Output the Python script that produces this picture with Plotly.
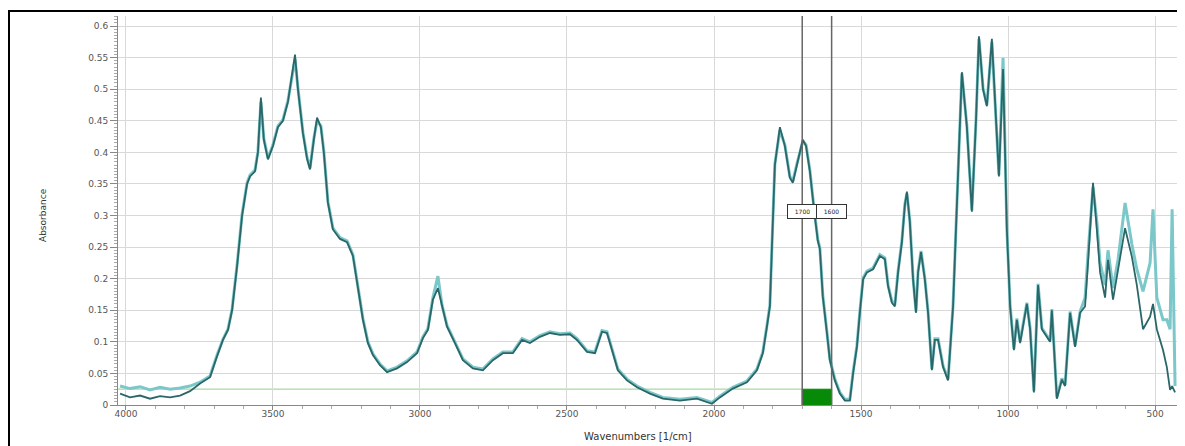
import plotly.graph_objects as go

# Wavenumbers (1/cm)
wavenumber = [4020, 3986, 3952, 3918, 3884, 3850, 3816, 3782, 3748, 3714, 3691, 3670, 3653, 3639,
              3622, 3605, 3588, 3578, 3561, 3551, 3541, 3531, 3517, 3500, 3483, 3466, 3449, 3435,
              3425, 3415, 3398, 3384, 3374, 3361, 3350, 3337, 3327, 3313, 3296, 3272, 3248, 3228,
              3211, 3194, 3177, 3160, 3136, 3112, 3078, 3044, 3010, 2990, 2973, 2956, 2939, 2925,
              2908, 2881, 2854, 2820, 2786, 2752, 2718, 2684, 2653, 2626, 2592, 2558, 2524, 2490,
              2466, 2432, 2405, 2381, 2364, 2347, 2327, 2296, 2262, 2218, 2174, 2116, 2058, 2007,
              1980, 1936, 1888, 1854, 1834, 1820, 1810, 1803, 1793, 1776, 1759, 1742, 1732, 1718,
              1698, 1687, 1674, 1660, 1647, 1640, 1630, 1616, 1606, 1589, 1572, 1555, 1538, 1527,
              1514, 1504, 1493, 1480, 1459, 1436, 1419, 1408, 1395, 1385, 1374, 1361, 1351, 1344,
              1334, 1323, 1313, 1306, 1296, 1283, 1272, 1259, 1249, 1238, 1221, 1204, 1187, 1174,
              1157, 1140, 1123, 1109, 1099, 1085, 1072, 1055, 1031, 1017, 1004, 993, 980, 970,
              959, 936, 925, 912, 898, 885, 857, 851, 834, 817, 806, 789, 772, 755,
              738, 728, 711, 698, 687, 670, 660, 643, 626, 602, 579, 562, 541, 517,
              507, 494, 473, 460, 449, 442, 432]

# Absorbance, dark trace
absorb_dark = [0.018, 0.012, 0.015, 0.010, 0.014, 0.012, 0.015, 0.022, 0.034, 0.044, 0.076, 0.103, 0.119, 0.150,
               0.220, 0.300, 0.350, 0.362, 0.370, 0.400, 0.487, 0.420, 0.389, 0.410, 0.440, 0.450, 0.480, 0.520,
               0.555, 0.500, 0.430, 0.390, 0.373, 0.420, 0.455, 0.440, 0.400, 0.320, 0.278, 0.263, 0.258, 0.236,
               0.183, 0.135, 0.098, 0.079, 0.063, 0.052, 0.058, 0.068, 0.082, 0.106, 0.119, 0.167, 0.185, 0.156,
               0.124, 0.098, 0.071, 0.058, 0.055, 0.071, 0.082, 0.082, 0.103, 0.098, 0.108, 0.114, 0.111, 0.112,
               0.103, 0.084, 0.082, 0.116, 0.114, 0.087, 0.055, 0.039, 0.028, 0.018, 0.010, 0.007, 0.010, 0.002,
               0.012, 0.026, 0.036, 0.055, 0.082, 0.124, 0.156, 0.250, 0.380, 0.440, 0.410, 0.360, 0.352, 0.380,
               0.420, 0.410, 0.370, 0.310, 0.260, 0.247, 0.172, 0.114, 0.071, 0.039, 0.018, 0.007, 0.007, 0.050,
               0.092, 0.146, 0.199, 0.210, 0.215, 0.236, 0.231, 0.188, 0.162, 0.156, 0.210, 0.258, 0.316, 0.338,
               0.290, 0.199, 0.146, 0.210, 0.242, 0.199, 0.146, 0.055, 0.103, 0.103, 0.060, 0.039, 0.156, 0.316,
               0.527, 0.440, 0.306, 0.450, 0.584, 0.500, 0.473, 0.580, 0.362, 0.532, 0.278, 0.156, 0.087, 0.135,
               0.098, 0.160, 0.120, 0.020, 0.190, 0.120, 0.100, 0.150, 0.010, 0.040, 0.030, 0.146, 0.092, 0.146,
               0.156, 0.225, 0.352, 0.278, 0.210, 0.170, 0.230, 0.167, 0.214, 0.280, 0.235, 0.190, 0.120, 0.140,
               0.160, 0.120, 0.087, 0.060, 0.024, 0.030, 0.020]

# Absorbance, light trace
absorb_light = [0.030, 0.026, 0.029, 0.024, 0.028, 0.025, 0.027, 0.030, 0.036, 0.046, 0.078, 0.104, 0.120, 0.152,
                0.222, 0.302, 0.352, 0.364, 0.372, 0.402, 0.480, 0.422, 0.391, 0.412, 0.442, 0.452, 0.482, 0.522,
                0.548, 0.502, 0.432, 0.392, 0.375, 0.422, 0.450, 0.442, 0.402, 0.322, 0.280, 0.265, 0.260, 0.238,
                0.185, 0.137, 0.100, 0.081, 0.065, 0.054, 0.060, 0.070, 0.084, 0.108, 0.121, 0.170, 0.204, 0.158,
                0.126, 0.100, 0.073, 0.060, 0.057, 0.073, 0.084, 0.084, 0.105, 0.100, 0.110, 0.116, 0.113, 0.114,
                0.105, 0.086, 0.084, 0.118, 0.116, 0.089, 0.057, 0.041, 0.030, 0.020, 0.012, 0.009, 0.012, 0.004,
                0.014, 0.028, 0.038, 0.057, 0.084, 0.126, 0.158, 0.252, 0.382, 0.435, 0.412, 0.362, 0.354, 0.382,
                0.418, 0.412, 0.372, 0.312, 0.262, 0.249, 0.174, 0.116, 0.073, 0.041, 0.020, 0.009, 0.009, 0.052,
                0.094, 0.148, 0.201, 0.212, 0.217, 0.238, 0.233, 0.190, 0.164, 0.158, 0.212, 0.260, 0.318, 0.335,
                0.292, 0.201, 0.148, 0.212, 0.244, 0.201, 0.148, 0.057, 0.105, 0.105, 0.062, 0.041, 0.158, 0.318,
                0.525, 0.442, 0.308, 0.452, 0.580, 0.502, 0.475, 0.575, 0.364, 0.550, 0.280, 0.158, 0.089, 0.137,
                0.100, 0.162, 0.122, 0.022, 0.192, 0.122, 0.102, 0.152, 0.012, 0.042, 0.032, 0.148, 0.094, 0.148,
                0.170, 0.240, 0.345, 0.290, 0.225, 0.190, 0.245, 0.185, 0.230, 0.320, 0.255, 0.215, 0.180, 0.225,
                0.310, 0.170, 0.135, 0.135, 0.120, 0.310, 0.030]

x_ticks = [4000, 3500, 3000, 2500, 2000, 1500, 1000, 500]
y_ticks = [0, 0.05, 0.1, 0.15, 0.2, 0.25, 0.3, 0.35, 0.4, 0.45, 0.5, 0.55, 0.6]
y_tick_text = ["0", "0.05", "0.1", "0.15", "0.2", "0.25", "0.3", "0.35", "0.4", "0.45", "0.5", "0.55", "0.6"]

cursor_positions = [1700, 1600]
cursor_labels = ["1700", "1600"]
region_height = 0.025

# figure geometry (page body adds an 8px offset)
W, H = 1177, 438
L, R, T, B = 110, 7, 8, 41
PW, PH = W - L - R, H - T - B


def px_x(px):
    return (px - 8 - L) / PW


def px_y(py):
    return (H - B - (py - 8)) / PH


fig = go.Figure()
fig.add_trace(go.Scatter(x=wavenumber, y=absorb_light, mode="lines",
                         line=dict(color="#7cc7c9", width=3), hoverinfo="skip", showlegend=False))
fig.add_trace(go.Scatter(x=wavenumber, y=absorb_dark, mode="lines",
                         line=dict(color="#2b6769", width=1.8), showlegend=False))

# baseline line and integration box
fig.add_shape(type="line", x0=4027, x1=cursor_positions[0], y0=region_height, y1=region_height,
              line=dict(color="#a9d9a0", width=1.2), layer="below")
fig.add_shape(type="rect", x0=cursor_positions[0], x1=cursor_positions[1], y0=0, y1=region_height,
              fillcolor="#078a07", line=dict(color="#078a07", width=1))
for xpos, lab in zip(cursor_positions, cursor_labels):
    fig.add_shape(type="line", x0=xpos, x1=xpos, y0=0, y1=1, yref="paper",
                  line=dict(color="#666666", width=1.5))
    fig.add_annotation(x=xpos, y=0.306, text=lab, showarrow=False,
                       font=dict(family="DejaVu Sans", size=6, color="#222"),
                       bgcolor="white", bordercolor="#333", borderwidth=1,
                       width=27, height=11)

# outer frame
fig.add_shape(type="rect", xref="paper", yref="paper",
              x0=px_x(9), x1=px_x(1183), y0=px_y(470), y1=px_y(11),
              line=dict(color="black", width=2), fillcolor="rgba(0,0,0,0)")

fig.add_annotation(xref="paper", yref="paper", x=px_x(43), y=px_y(215),
                   xanchor="center", yanchor="middle",
                   text="Absorbance", textangle=-90, showarrow=False,
                   font=dict(family="DejaVu Sans", size=9, color="#333"))
fig.add_annotation(xref="paper", yref="paper", x=px_x(638), y=px_y(436),
                   xanchor="center", yanchor="middle",
                   text="Wavenumbers [1/cm]", showarrow=False,
                   font=dict(family="DejaVu Sans", size=10, color="#333"))

axis_font = dict(family="DejaVu Sans", size=9, color="#555")
fig.update_xaxes(range=[4027, 422], tickvals=x_ticks, ticktext=[str(v) for v in x_ticks],
                 showgrid=True, gridcolor="#d9d9d9", gridwidth=1,
                 showline=True, linecolor="#888", linewidth=1,
                 ticks="outside", ticklen=4, tickcolor="#888", ticklabelstandoff=-4,
                 minor=dict(dtick=100, tick0=0, ticks="outside", ticklen=3, tickcolor="#aaa", showgrid=False),
                 tickfont=axis_font, zeroline=False)
fig.update_yaxes(range=[0, 0.616], tickvals=y_ticks, ticktext=y_tick_text,
                 showgrid=True, gridcolor="#d9d9d9", gridwidth=1,
                 showline=True, linecolor="#888", linewidth=1,
                 ticks="outside", ticklen=7, tickcolor="#888",
                 minor=dict(dtick=0.005, tick0=0, ticks="outside", ticklen=3, tickcolor="#aaa", showgrid=False),
                 tickfont=axis_font, zeroline=False)

fig.update_layout(width=W, height=H,
                  margin=dict(l=L, r=R, t=T, b=B),
                  plot_bgcolor="white", paper_bgcolor="white",
                  showlegend=False)

fig.write_html("out.html")
